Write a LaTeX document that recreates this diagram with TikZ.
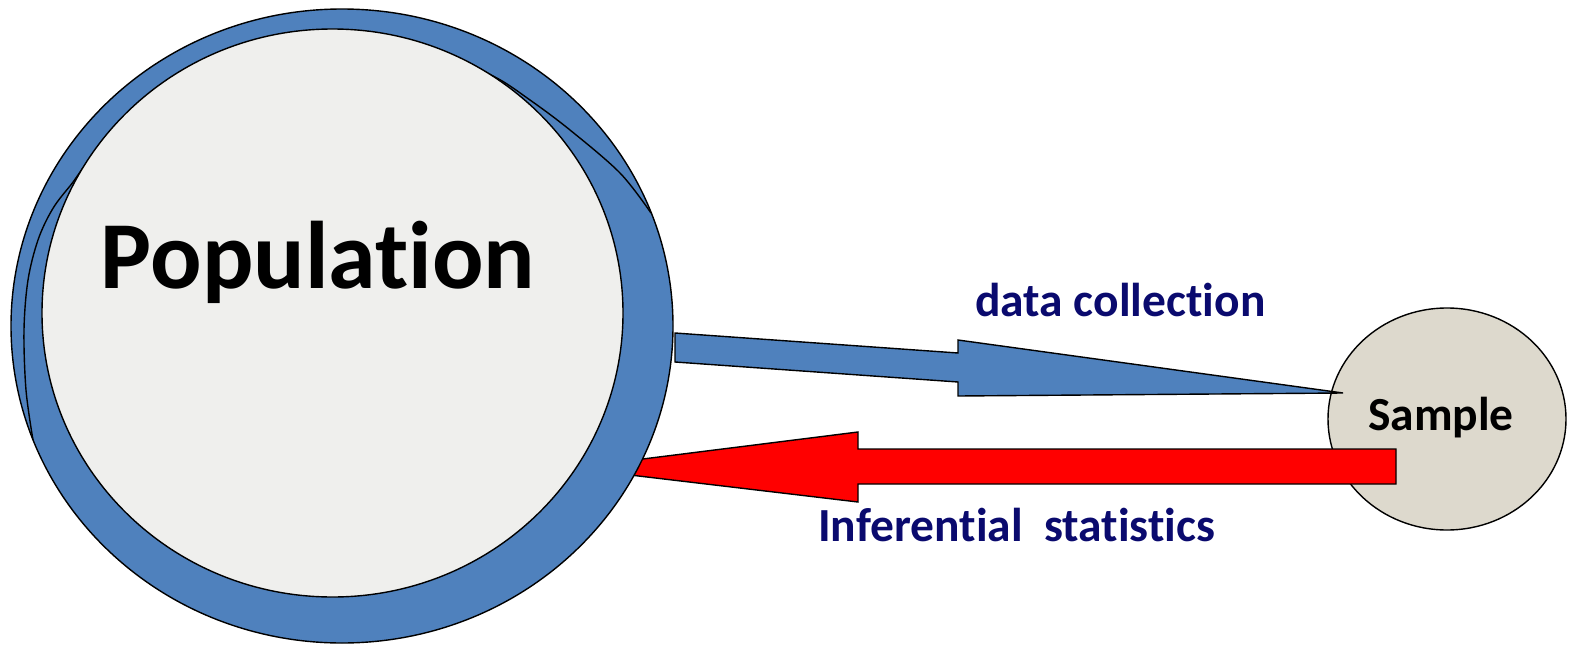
\documentclass[tikz,border=0pt]{standalone}
\usepackage{fontspec}
\setmainfont{Carlito}[Ligatures={NoCommon,NoContextual}]
\usetikzlibrary{shapes.geometric}
\definecolor{popblue}{HTML}{4F81BD}
\definecolor{popgray}{HTML}{EFEFED}
\definecolor{sampfill}{HTML}{DDD9CD}
\definecolor{navytext}{RGB}{10,10,110}
\definecolor{arrowred}{HTML}{FF0000}
\tikzset{
  outline/.style={draw=black, line width=1.4pt, line join=miter},
  bigtext/.style={font=\fontsize{96}{96}\selectfont\bfseries, text=black},
  labeltext/.style={font=\fontsize{47.5}{47.5}\selectfont\bfseries, text=navytext},
  sampletext/.style={font=\fontsize{47.5}{47.5}\selectfont\bfseries, text=black},
}
\begin{document}
\begin{tikzpicture}[x=1pt,y=-1pt]
\useasboundingbox (0,0) rectangle (1569,645);
% sample circle
\node[outline, fill=sampfill, ellipse, minimum width=238pt, minimum height=222pt, inner sep=0pt] (sample) at (1447,419) {};
% blue arrow (data collection)
\filldraw[outline, fill=popblue] (675,333) -- (958,353) -- (958,340) -- (1343,393) -- (958,396) -- (958,382) -- (675,362) -- cycle;
% red arrow (inferential statistics)
\filldraw[outline, fill=arrowred] (1396,449) -- (858,449) -- (858,432) -- (571,468) -- (858,502) -- (858,484) -- (1396,484) -- cycle;
% population: blue backing ellipse
\node[outline, fill=popblue, ellipse, minimum width=662pt, minimum height=634pt, inner sep=0pt] (outerA) at (342,326) {};
% inner rim line of the blue backing
\draw[outline] plot[smooth, tension=0.55] coordinates {(33,440) (26,390) (24,330) (28,280) (38,240) (52,210) (70,186) (110,140) (220,70) (330,45) (440,56) (493,76) (530,100) (570,130) (620,173) (651,213)};
% grey disc
\node[outline, fill=popgray, ellipse, minimum width=581pt, minimum height=568pt, inner sep=0pt] (pop) at (332.5,313) {};
% texts
\node[bigtext] (poptext) at (318,262) {Population};
\node[sampletext] (samptext) at (1441,418) {Sample};
\node[labeltext, anchor=base west, inner sep=0pt] (dc) at (975,316) {data collection};
\node[labeltext, anchor=base west, inner sep=0pt] (inf) at (818,541) {Inferential\ \ statistics};
\end{tikzpicture}
\end{document}
